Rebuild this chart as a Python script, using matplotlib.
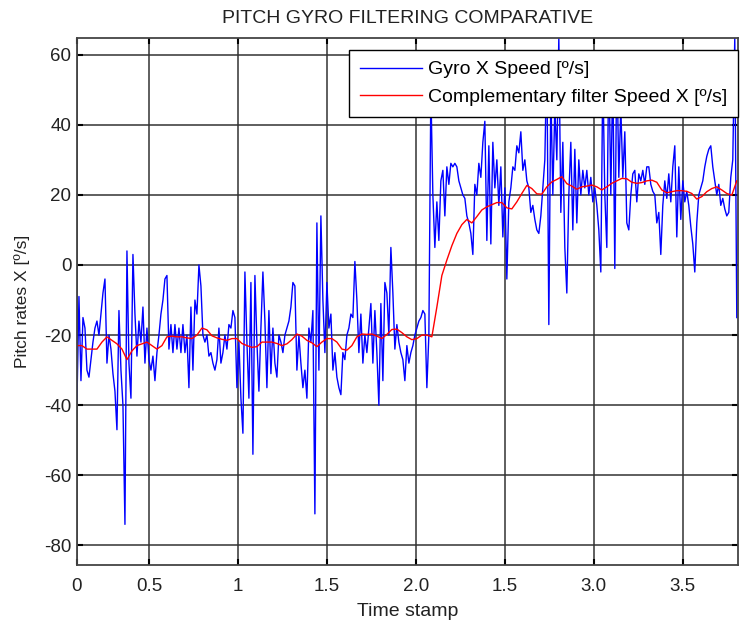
import numpy as np
import matplotlib
matplotlib.use("Agg")
import matplotlib.pyplot as plt

# gyro X speed [deg/s], one sample every 0.011236 s
gyro_speed = [
    -39, -9, -33, -15, -18, -30, -32, -27, -22, -18, -16, -20, -14, -8, -4, -28, -20, -24, -31, -36,
    -47, -13, -30, -40, -74, 4, -28, -38, 3, -14, -26, -16, -22, -12, -28, -18, -27, -30, -26, -33,
    -25, -20, -14, -10, -4, -3, -24, -17, -25, -17, -24, -18, -25, -17, -25, -20, -35,
    -12, -30, -10, -14, 0, -6, -20, -22, -20, -26, -25, -28, -30, -27, -18, -28, -25, -20, -24, -17,
    -18, -13, -15, -35, -22, -38, -48, -2, -22, -38, -5, -54, -3, -22, -36, -18, -2, -16, -35, -13,
    -31, -18, -28, -32, -20, -22, -25, -20, -18, -16, -12, -5, -6, -30, -20,
    -28, -35, -30, -38, -18, -22, -13, -71, 12, -30, 14, -10, -25, -5, -18, -14, -30, -25, -32, -35,
    -37, -25, -27, -20, -18, -14, -15, 1, -10, -25, -14, -28, -20, -25, -18, -11, -28, -13, -25, -40,
    -11, -33, -5, -8, -20, 5, -8, -24, -17, -22, -25, -27, -33, -23, -28, -25, -23,
    -20, -18, -16, -15, -13, -14, -35, -20, 50, 20, 5, 18, 7, 24, 27, 14, 28, 23, 29, 28,
    29, 28, 24, 22, 20, 19, 14, 12, 9, 3, 23, 20, 29, 25, 35, 41, 7, 34, 6, 35,
    22, 30, 17, 28, 8, 22, -4, 18, 22, 28, 27, 34,
    32, 38, 27, 30, 24, 22, 15, 17, 13, 10, 9, 14, 22, 30, 60, -17, 50, 20, 45, 30,
    65, 15, 35, 5, -8, 20, 35, 10, 33, 12, 30, 20, 27, 22, 27, 20, 25, 18, 22, 17,
    10, -2, 55, 20, 5, 60, 20, 55, -1, 60, 25, 45, 25, 38, 12, 10,
    20, 26, 27, 18, 26, 24, 27, 23, 28, 28, 23, 21, 20, 12, 15, 3, 17, 24, 19, 26,
    18, 28, 34, 8, 28, 13, 24, 18, 21, 17, 11, 6, -2, 12, 20, 22, 24, 28, 31, 33,
    34, 28, 24, 20, 23, 17, 19, 16, 14, 15, 25, 30, 65, -15,
]

# complementary filter output [deg/s], one sample every 0.02809 s
filter_speed = [
    -23, -23, -24, -24, -24, -22, -20.5, -21.5, -22.5, -24, -27, -24.5, -23, -22.5, -22, -23, -24, -23, -20.5, -20.3,
    -20.5, -20.5, -20.8, -21, -20, -18, -18.5, -20.2, -20.8, -21.2, -21.5, -21, -21, -22.4, -23, -23.5, -23.3, -22, -22, -22,
    -22.4, -23, -22.5, -21.3, -19.7, -20.3, -21.5, -22.2, -23.3, -22, -21, -21, -22, -24, -24.3, -23, -20.5, -19.7, -19.8, -19.7,
    -20.3, -21, -19.8, -18.4, -18.3, -19.3, -20.5, -21.3, -21, -20, -20, -20.5, -12, -3, 1.4, 5.5, 9, 11.5, 13, 12,
    13.8, 15.7, 16.6, 17.2, 17.8, 17.8, 16.3, 16, 18, 20.4, 22.7, 21.8, 20.3, 20.2, 22.3, 23.7, 24.4, 25.2, 23.2, 22.5,
    21.6, 22.3, 22.5, 22.8, 22.3, 21.4, 22.3, 23.3, 24, 24.7, 24.6, 23.6, 23.3, 23.5, 24, 24.2, 23.6, 21.4, 20.6, 20.9,
    21.2, 21.2, 21, 20.4, 18.8, 19.5, 20.9, 21.8, 22.3, 21.4, 20.4, 19.9, 24,
]

t_start = 0.0955
gyro_dt = 0.011236
filter_dt = 0.02809

tick_pos = [t_start, 0.5, 1.0, 1.5, 2.0, 2.5, 3.0, 3.5]
tick_labels = ["0", "0.5", "1", "1.5", "2.0", "1.5", "3.0", "3.5"]
y_ticks = [-80, -60, -40, -20, 0, 20, 40, 60]

gyro_t = t_start + np.arange(len(gyro_speed)) * gyro_dt
filter_t = t_start + np.arange(len(filter_speed)) * filter_dt

plt.rcParams["font.family"] = "Liberation Sans"
plt.rcParams["axes.unicode_minus"] = False

fig = plt.figure(figsize=(7.4, 6.22), dpi=100)
ax = fig.add_axes([0.104, 0.0916, 0.893, 0.847])

ax.plot(gyro_t, gyro_speed, color="#0000ff", lw=1.0, label="Gyro X Speed [º/s]")
ax.plot(filter_t, filter_speed, color="#ff0000", lw=1.0, label="Complementary filter Speed X [º/s]")

ax.set_xlim(t_start, 3.809)
ax.set_ylim(-85.6, 64.7)
ax.set_xticks(tick_pos)
ax.set_xticklabels(tick_labels)
ax.set_yticks(y_ticks)
ax.grid(True, color="#333333", lw=1.1)
ax.set_axisbelow(True)
ax.tick_params(direction="in", length=4, width=1.5, top=True, right=True,
               labelsize=13.5, colors="black", labelcolor="#222222")
ax.tick_params(axis="x", pad=9)
ax.tick_params(axis="y", pad=4)
for s in ax.spines.values():
    s.set_color("#444444")
    s.set_linewidth(1.3)

ax.set_title("PITCH GYRO FILTERING COMPARATIVE", fontsize=14, color="#222222", pad=11)
ax.set_xlabel("Time stamp", fontsize=14, color="#222222", labelpad=6)
ax.set_ylabel("Pitch rates X [º/s]", fontsize=12.5, color="#222222", labelpad=10)

leg = ax.legend(loc="upper right", bbox_to_anchor=(1.0, 1 - 12 / 527), fontsize=14,
                fancybox=False, framealpha=1, edgecolor="black", borderaxespad=0,
                handlelength=3.2, handletextpad=0.3, borderpad=0.55, labelspacing=0.5)
leg.get_frame().set_linewidth(1.0)

fig.savefig("out.png", dpi=100)
